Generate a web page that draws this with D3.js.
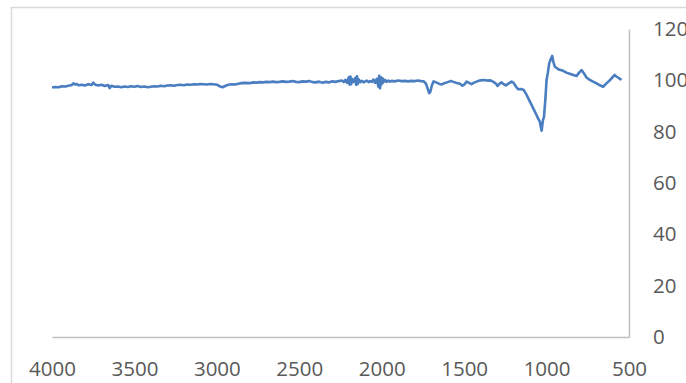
<!DOCTYPE html>
<html>
<head>
<meta charset="utf-8">
<script src="https://cdn.jsdelivr.net/npm/d3@7"></script>
<style>
  body { margin: 0; background: #fff; overflow: hidden; }
  svg { display: block; }
</style>
</head>
<body>
<div id="wrapper"></div>
<script>
// wavenumber (cm-1) and transmittance (%)
const wavenumbers = [
  4000, 3980, 3960, 3940, 3920, 3900, 3880, 3870, 3860, 3850, 3840, 3820, 3800, 3780, 3760, 3750,
  3740, 3720, 3700, 3680, 3660, 3650, 3640, 3620, 3600, 3580, 3560, 3540, 3520, 3500, 3480, 3460,
  3440, 3420, 3400, 3380, 3360, 3340, 3320, 3300, 3280, 3260, 3240, 3220, 3200, 3180, 3160, 3140,
  3120, 3100, 3080, 3060, 3040, 3020, 3000, 2980, 2965, 2950, 2930, 2910, 2890, 2870, 2850, 2830,
  2800, 2780, 2760, 2740, 2720, 2700, 2680, 2660, 2640, 2620, 2600, 2580, 2560, 2540, 2520, 2500,
  2480, 2460, 2440, 2420, 2400, 2380, 2360, 2340, 2320, 2300, 2280, 2260, 2240, 2230, 2220, 2210,
  2200, 2195, 2190, 2185, 2180, 2170, 2160, 2155, 2150, 2145, 2140, 2130, 2120, 2110, 2100, 2090,
  2080, 2070, 2060, 2050, 2040, 2030, 2020, 2015, 2010, 2005, 2000, 1995, 1990, 1980, 1970, 1960,
  1950, 1940, 1920, 1900, 1880, 1860, 1840, 1820, 1800, 1780, 1760, 1745, 1730, 1720, 1712, 1705,
  1695, 1685, 1670, 1650, 1635, 1620, 1600, 1580, 1565, 1545, 1525, 1510, 1500, 1485, 1470, 1455,
  1440, 1420, 1400, 1380, 1360, 1340, 1320, 1305, 1297, 1285, 1273, 1260, 1247, 1230, 1212, 1200,
  1185, 1172, 1155, 1138, 1120, 1101, 1080, 1061, 1050, 1041, 1030, 1022, 1016, 1008, 1000, 992,
  984, 975, 966, 958, 950, 940, 929, 915, 899, 880, 860, 838, 818, 805, 788, 772,
  758, 740, 718, 700, 680, 657, 637, 620, 600, 587, 577, 567, 555, 546
];
const transmittance = [
  97.2, 97.4, 97.3, 97.7, 97.6, 97.9, 98.2, 98.8, 98.4, 98.6, 98.1, 98.3, 98.0, 98.5, 98.2, 99.1,
  98.4, 98.0, 98.3, 97.8, 98.2, 97.0, 97.9, 97.5, 97.6, 97.3, 97.6, 97.4, 97.7, 97.5, 97.8, 97.4,
  97.6, 97.3, 97.5, 97.7, 97.6, 97.9, 97.7, 98.0, 98.1, 97.9, 98.2, 98.3, 98.1, 98.4, 98.3, 98.5,
  98.4, 98.6, 98.5, 98.4, 98.6, 98.5, 98.3, 97.6, 97.3, 97.8, 98.3, 98.5, 98.4, 98.7, 98.9, 99.0,
  98.9, 99.2, 99.1, 99.3, 99.2, 99.4, 99.3, 99.5, 99.3, 99.4, 99.6, 99.4, 99.5, 99.7, 99.4, 99.3,
  99.6, 99.5, 99.7, 99.3, 99.2, 99.5, 99.1, 99.4, 99.2, 99.6, 99.4, 99.7, 99.9, 99.3, 100.2, 99.0,
  101.2, 98.3, 101.5, 98.5, 100.6, 99.4, 101.0, 98.2, 101.6, 98.6, 100.4, 99.3, 99.8, 99.2, 99.6, 99.9,
  99.3, 99.7, 99.4, 100.3, 99.0, 100.6, 97.5, 101.8, 96.9, 101.2, 98.5, 100.8, 99.2, 100.2, 99.4, 99.9,
  99.5, 99.8, 99.6, 99.9, 99.7, 99.8, 99.6, 99.8, 99.7, 99.9, 99.7, 99.6, 98.5, 96.5, 95.0, 95.6,
  98.2, 99.6, 99.2, 98.6, 98.4, 98.9, 99.3, 99.7, 99.4, 99.0, 98.7, 97.9, 98.3, 99.5, 99.0, 98.5,
  99.1, 99.6, 100.0, 100.1, 99.9, 100.0, 99.3, 98.6, 97.8, 98.7, 99.2, 98.5, 98.0, 98.8, 99.5, 99.0,
  97.5, 96.5, 96.6, 96.2, 94.2, 91.7, 89.0, 86.5, 85.0, 83.9, 80.4, 84.5, 85.6, 92.0, 100.1, 103.0,
  106.6, 108.2, 109.5, 107.0, 105.3, 104.9, 104.3, 104.0, 103.7, 103.0, 102.6, 102.1, 101.7, 102.8, 104.0, 102.6,
  101.1, 100.3, 99.5, 98.9, 98.2, 97.5, 98.8, 99.8, 101.2, 102.1, 101.5, 101.1, 100.6, 100.1
];
const xTicks = [4000, 3500, 3000, 2500, 2000, 1500, 1000, 500];
const yTicks = [0, 20, 40, 60, 80, 100, 120];

const width = 686, height = 383;
const plot = { left: 52, right: 629, top: 29, bottom: 337 };

const svg = d3.select("#wrapper").append("svg")
  .attr("width", width)
  .attr("height", height);

// chart area border (runs off the right and bottom edge)
svg.append("rect")
  .attr("x", 11.5)
  .attr("y", 7.5)
  .attr("width", 720)
  .attr("height", 420)
  .attr("fill", "none")
  .attr("stroke", "#d9d9d9")
  .attr("stroke-width", 1.5);

const x = d3.scaleLinear().domain([4000, 500]).range([plot.left, plot.right]);
const y = d3.scaleLinear().domain([0, 120]).range([plot.bottom, plot.top]);

const xAxis = svg.append("g")
  .attr("transform", `translate(0,${plot.bottom})`)
  .call(d3.axisBottom(x).tickValues(xTicks).tickSize(0).tickPadding(24).tickFormat(d3.format("d")));

const yAxis = svg.append("g")
  .attr("transform", `translate(${plot.right},0)`)
  .call(d3.axisRight(y).tickValues(yTicks).tickSize(0).tickPadding(24));

[xAxis, yAxis].forEach(g => {
  g.select(".domain").attr("stroke", "#bfbfbf").attr("stroke-width", 1.5);
  g.selectAll("text")
    .style("font-family", "'Open Sans', sans-serif")
    .style("font-size", "20.5px")
    .attr("fill", "#595959");
});

const points = wavenumbers.map((w, i) => [w, transmittance[i]]);

const line = d3.line()
  .x(d => x(d[0]))
  .y(d => y(d[1]));

svg.append("path")
  .datum(points)
  .attr("fill", "none")
  .attr("stroke", "#4a7ec1")
  .attr("stroke-width", 2.6)
  .attr("stroke-linejoin", "round")
  .attr("d", line);
</script>
</body>
</html>
